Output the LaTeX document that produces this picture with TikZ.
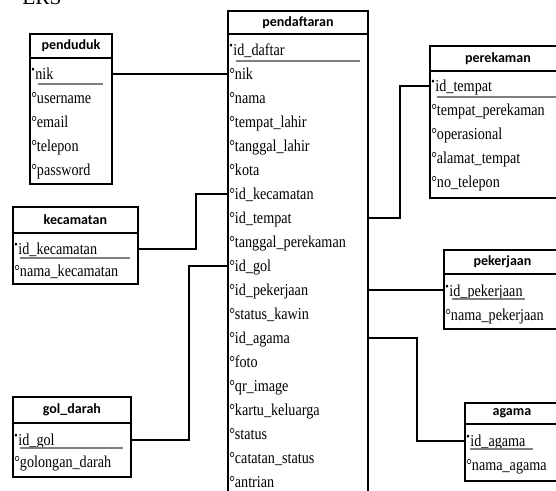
\documentclass[tikz,border=0pt]{standalone}
\usepackage{fontspec}
\setmainfont{Liberation Serif}
\newfontfamily\attrfont[FakeStretch=0.85]{Liberation Serif}
\newfontfamily\headfont{Carlito}
\usepackage{tikz}
\usetikzlibrary{positioning}
\newcommand{\px}[1]{#1*0.75pt}
\newcommand{\pkmark}{\textsuperscript{\textbullet}}
\newcommand{\atmark}{°}
\tikzstyle{head} = [draw,rectangle,line width=1.4pt,anchor=north west,inner sep=0pt,font=\headfont\fontsize{10.5}{12}\selectfont\bfseries]
\tikzstyle{body} = [draw,rectangle,line width=1.4pt,anchor=north west,inner sep=0pt]
\tikzstyle{attr} = [anchor=west,inner sep=0pt,text height=10pt,text depth=2pt,font=\attrfont\fontsize{12.5}{14}\selectfont]
\tikzstyle{keyLine} = [draw,gray,line width=0.9pt]
\tikzstyle{line} = [draw,line width=1.4pt]

\begin{document}
\begin{tikzpicture}[x=0.75pt,y=-0.75pt]
		\useasboundingbox (0,0) rectangle (556,490);
		\node[anchor=base west,inner sep=0pt,font=\fontsize{16}{18}\selectfont](title) at (22,4){ERS};
		%penduduk
		\node[head,minimum width=\px{82},minimum height=\px{24}](penduduk) at (29,33){penduduk};
		\node[body,minimum width=\px{82},minimum height=\px{126}](pendudukBody) at (29,57){};
		\node[attr](pendudukNik) at (31,74){\pkmark nik};
		\node[attr](pendudukUsername) at (31,98){\atmark username};
		\node[attr](pendudukEmail) at (31,122){\atmark email};
		\node[attr](pendudukTelepon) at (31,146){\atmark telepon};
		\node[attr](pendudukPassword) at (31,170){\atmark password};
		\path[keyLine](38,84)--(103,84);
		%pendaftaran
		\node[head,minimum width=\px{140},minimum height=\px{23}](daftar) at (227,10){pendaftaran};
		\node[body,minimum width=\px{140},minimum height=\px{470}](daftarBody) at (227,33){};
		\node[attr](daftarIdDaftar) at (229,50){\pkmark id\_daftar};
		\node[attr](daftarNik) at (229,74){\atmark nik};
		\node[attr](daftarNama) at (229,98){\atmark nama};
		\node[attr](daftarTempatLahir) at (229,122){\atmark tempat\_lahir};
		\node[attr](daftarTanggalLahir) at (229,146){\atmark tanggal\_lahir};
		\node[attr](daftarKota) at (229,170){\atmark kota};
		\node[attr](daftarIdKecamatan) at (229,194){\atmark id\_kecamatan};
		\node[attr](daftarIdTempat) at (229,218){\atmark id\_tempat};
		\node[attr](daftarTanggalRekam) at (229,242){\atmark tanggal\_perekaman};
		\node[attr](daftarIdGol) at (229,266){\atmark id\_gol};
		\node[attr](daftarIdPekerjaan) at (229,290){\atmark id\_pekerjaan};
		\node[attr](daftarStatusKawin) at (229,314){\atmark status\_kawin};
		\node[attr](daftarIdAgama) at (229,338){\atmark id\_agama};
		\node[attr](daftarFoto) at (229,362){\atmark foto};
		\node[attr](daftarQrImage) at (229,386){\atmark qr\_image};
		\node[attr](daftarKartuKeluarga) at (229,410){\atmark kartu\_keluarga};
		\node[attr](daftarStatus) at (229,434){\atmark status};
		\node[attr](daftarCatatanStatus) at (229,458){\atmark catatan\_status};
		\node[attr](daftarAntrian) at (229,482){\atmark antrian};
		\path[keyLine](236,61)--(360,61);
		%perekaman
		\node[head,minimum width=\px{136},minimum height=\px{25}](perekaman) at (429,45){perekaman};
		\node[body,minimum width=\px{136},minimum height=\px{127}](perekamanBody) at (429,70){};
		\node[attr](rekamIdTempat) at (431,86){\pkmark id\_tempat};
		\node[attr](rekamTempat) at (431,110){\atmark tempat\_perekaman};
		\node[attr](rekamOperasional) at (431,134){\atmark operasional};
		\node[attr](rekamAlamat) at (431,158){\atmark alamat\_tempat};
		\node[attr](rekamTelepon) at (431,182){\atmark no\_telepon};
		\path[keyLine](437,97)--(556,97);
		%kecamatan
		\node[head,minimum width=\px{125},minimum height=\px{26}](kecamatan) at (12,206){kecamatan};
		\node[body,minimum width=\px{125},minimum height=\px{51}](kecamatanBody) at (12,232){};
		\node[attr](kecIdKecamatan) at (14,249){\pkmark id\_kecamatan};
		\node[attr](kecNamaKecamatan) at (14,271){\atmark nama\_kecamatan};
		\path[keyLine](20,258)--(130,258);
		%gol_darah
		\node[head,minimum width=\px{118},minimum height=\px{26}](golDarah) at (12,396){gol\_darah};
		\node[body,minimum width=\px{118},minimum height=\px{54}](golDarahBody) at (12,422){};
		\node[attr](golIdGol) at (14,440){\pkmark id\_gol};
		\node[attr](golGolongan) at (14,462){\atmark golongan\_darah};
		\path[keyLine](20,448)--(123,448);
		%pekerjaan
		\node[head,minimum width=\px{117},minimum height=\px{24}](pekerjaan) at (443,249){pekerjaan};
		\node[body,minimum width=\px{117},minimum height=\px{55}](pekerjaanBody) at (443,273){};
		\node[attr](kerjaIdPekerjaan) at (445,291){\pkmark id\_pekerjaan};
		\node[attr](kerjaNamaPekerjaan) at (445,315){\atmark nama\_pekerjaan};
		\path[keyLine](452,299)--(525,299);
		%agama
		\node[head,minimum width=\px{94},minimum height=\px{21}](agama) at (464,402){agama};
		\node[body,minimum width=\px{94},minimum height=\px{57}](agamaBody) at (464,423){};
		\node[attr](agamaIdAgama) at (466,441){\pkmark id\_agama};
		\node[attr](agamaNamaAgama) at (466,465){\atmark nama\_agama};
		\path[keyLine](470,449)--(533,449);
		%relations
		\path[line](pendudukNik -| pendudukBody.east)--(daftarNik -| daftarBody.west);
		\path[line](kecIdKecamatan -| kecamatanBody.east)--++(57,0)|-(daftarIdKecamatan -| daftarBody.west);
		\path[line](golIdGol -| golDarahBody.east)--++(57,0)|-(daftarIdGol -| daftarBody.west);
		\path[line](daftarIdTempat -| daftarBody.east)--++(31,0)|-(rekamIdTempat -| perekamanBody.west);
		\path[line](daftarIdPekerjaan -| daftarBody.east)--(daftarIdPekerjaan -| pekerjaanBody.west);
		\path[line](daftarIdAgama -| daftarBody.east)--++(48,0)|-(agamaIdAgama -| agamaBody.west);
	\end{tikzpicture}
\end{document}
